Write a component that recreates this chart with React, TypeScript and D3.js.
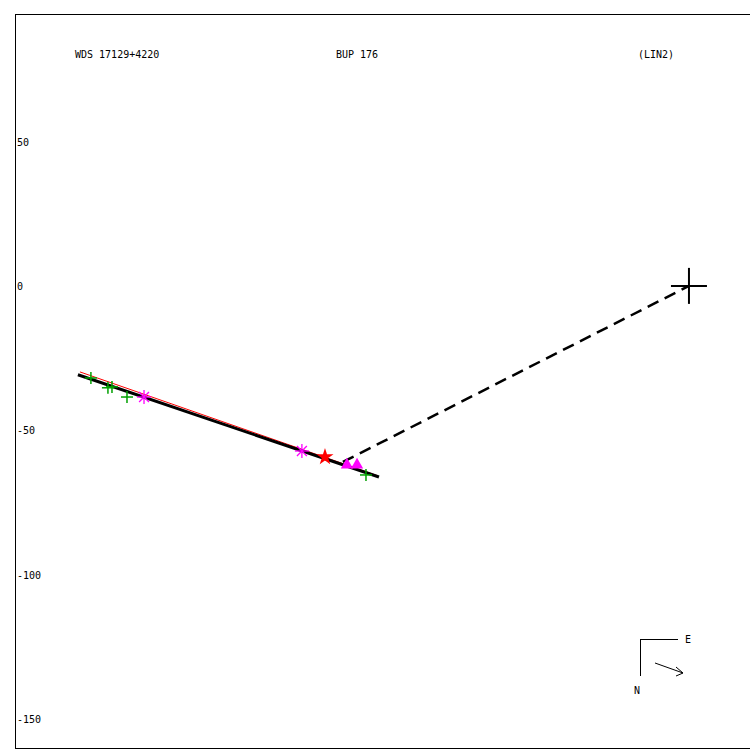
import React from 'react';
import * as d3 from 'd3';

const plusX = [-207.2, -201.3, -199.9, -194.7, -111.9];
const plusY = [-31.9, -35.3, -35.0, -38.5, -65.5];
const asteriskX = [-188.8, -134.1];
const asteriskY = [-38.5, -57.2];
const starX = [-126.1];
const starY = [-59.3];
const triangleX = [-118.5, -115.0];
const triangleY = [-62.0, -62.0];

// fitted orbits / lines
const fitBlackX = [-211.7, -107.4];
const fitBlackY = [-30.8, -66.2];
const fitRedX = [-211.0, -107.8];
const fitRedY = [-29.8, -65.8];
const dashX = [-119.9, 0];
const dashY = [-61.0, 0];

const yTicks = [50, 0, -50, -100, -150];
const titles = ['WDS 17129+4220', 'BUP 176', '(LIN2)'];

const W = 750;
const H = 750;
const left = 15;
const top = 14;
const bottom = 748;
const right = 749;

const App: React.FC = () => {
  const x = d3.scaleLinear().domain([-233.5, 20.8]).range([left, right]);
  const y = d3.scaleLinear().domain([94.2, -160.1]).range([top, bottom]);

  const line = (xs: number[], ys: number[]) =>
    d3.line<number>().x((d) => x(xs[d])).y((d) => y(ys[d]))(xs.map((_, i) => i)) || '';

  const starPath = d3.symbol().type(d3.symbolStar).size(90)() || '';
  const triPath = d3.symbol().type(d3.symbolTriangle).size(65)() || '';

  const font = { fontFamily: '"DejaVu Sans Mono", monospace', fontSize: 10, fill: '#000' };

  return (
    <svg width={W} height={H} style={{ position: 'absolute', left: 0, top: 0, background: '#fff' }}>
      {/* frame */}
      <path
        d={`M${right + 10},${top + 0.5}H${left + 0.5}V${bottom + 0.5}H${right + 10}`}
        fill="none"
        stroke="#000"
        strokeWidth={1}
        shapeRendering="crispEdges"
      />

      {/* titles */}
      <text x={75} y={58} {...font}>{titles[0]}</text>
      <text x={336} y={58} {...font}>{titles[1]}</text>
      <text x={638} y={58} {...font}>{titles[2]}</text>

      {/* y ticks */}
      {yTicks.map((t) => (
        <text key={t} x={17} y={y(t) + 4} {...font}>
          {t}
        </text>
      ))}

      {/* fits */}
      <path d={line(fitRedX, fitRedY)} stroke="#ff0000" strokeWidth={1} fill="none" />
      <path d={line(fitBlackX, fitBlackY)} stroke="#000" strokeWidth={3} fill="none" />
      <path d={line(dashX, dashY)} stroke="#000" strokeWidth={2.5} strokeDasharray="12,7" fill="none" />

      {/* primary */}
      <g transform={`translate(${x(0)},${y(0)})`} stroke="#000" strokeWidth={2}>
        <line x1={-18} x2={18} y1={0} y2={0} />
        <line x1={0} x2={0} y1={-18} y2={18} />
      </g>

      {/* green pluses */}
      {plusX.map((px, i) => (
        <g key={'p' + i} transform={`translate(${x(px)},${y(plusY[i])})`} stroke="#00a000" strokeWidth={1.5}>
          <line x1={-6} x2={6} y1={0} y2={0} />
          <line x1={0} x2={0} y1={-6} y2={6} />
        </g>
      ))}

      {/* magenta asterisks */}
      {asteriskX.map((px, i) => (
        <g key={'a' + i} transform={`translate(${x(px)},${y(asteriskY[i])})`} stroke="#ff00ff" strokeWidth={1.3}>
          {d3.range(8).map((k) => {
            const a = (k * Math.PI) / 4;
            return <line key={k} x1={0} y1={0} x2={7 * Math.cos(a)} y2={7 * Math.sin(a)} />;
          })}
        </g>
      ))}

      {/* triangles */}
      {triangleX.map((px, i) => (
        <path key={'t' + i} d={triPath} transform={`translate(${x(px)},${y(triangleY[i])})`} fill="#ff00ff" />
      ))}

      {/* red star */}
      {starX.map((px, i) => (
        <path key={'s' + i} d={starPath} transform={`translate(${x(px)},${y(starY[i])})`} fill="#ff0000" />
      ))}

      {/* compass */}
      <path d="M678,639.5H640.5V676" fill="none" stroke="#000" strokeWidth={1} shapeRendering="crispEdges" />
      <text x={685} y={643} {...font}>E</text>
      <text x={634} y={694} {...font}>N</text>
      <path d="M655,663L683,673M676,667L683,673L676,676" fill="none" stroke="#000" strokeWidth={1} />
    </svg>
  );
};

export default App;
